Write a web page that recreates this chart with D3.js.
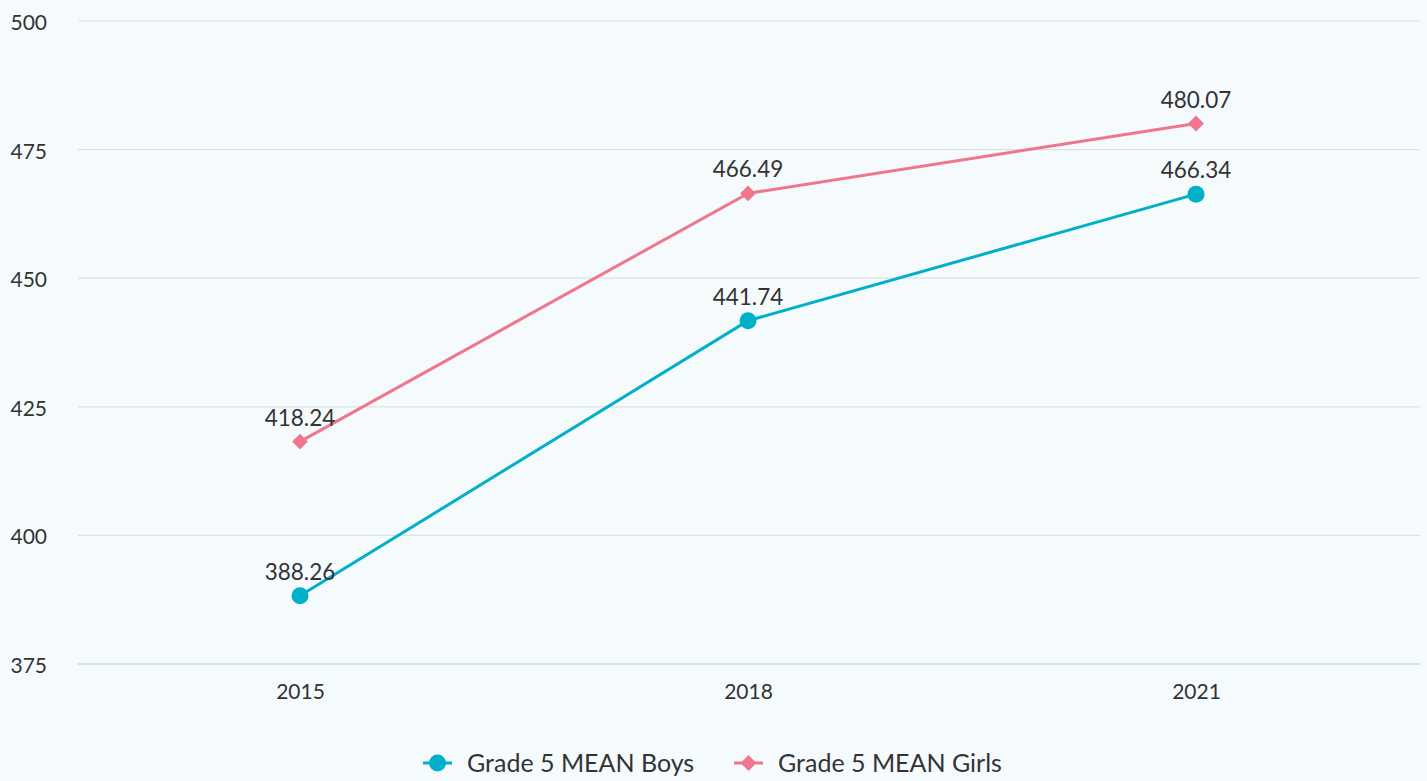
<!DOCTYPE html>
<html>
<head>
<meta charset="utf-8">
<script src="https://cdn.jsdelivr.net/npm/d3@7"></script>
<style>
  body { margin: 0; background: #f5fafd; }
  svg { display: block; font-family: "Lato", "Open Sans", sans-serif; }
</style>
</head>
<body>
<svg id="chart" width="1427" height="781"></svg>
<script>
// data
const years = ["2015", "2018", "2021"];
const boys = [388.26, 441.74, 466.34];
const girls = [418.24, 466.49, 480.07];
const yTicks = [375, 400, 425, 450, 475, 500];
const seriesNames = ["Grade 5 MEAN Boys", "Grade 5 MEAN Girls"];
const colors = ["#00b0c8", "#f0768e"];

const svg = d3.select("#chart");
const margin = {top: 21, right: 7, bottom: 117, left: 76};
const width = 1427 - margin.left - margin.right,
      height = 781 - margin.top - margin.bottom;

const g = svg.append("g")
    .attr("transform", "translate(" + margin.left + "," + margin.top + ")");

const x = d3.scalePoint()
    .domain(years)
    .range([0, width])
    .padding(0.5);

const y = d3.scaleLinear()
    .domain([375, 500])
    .range([height, 0]);

// grid lines
g.selectAll(".grid")
    .data(yTicks.slice(1))
  .enter().append("line")
    .attr("class", "grid")
    .attr("x1", 2).attr("x2", width)
    .attr("y1", d => y(d)).attr("y2", d => y(d))
    .attr("stroke", "#dde1e6")
    .attr("stroke-width", 1.2);

// x axis
const xAxis = g.append("g")
    .attr("transform", "translate(0," + height + ")")
    .call(d3.axisBottom(x).tickSize(0).tickPadding(20));
xAxis.select(".domain").attr("stroke", "#ccd6eb").attr("stroke-width", 1.5)
    .attr("d", "M2,0H" + width);
xAxis.selectAll("text").attr("font-size", 21).attr("fill", "#333").attr("font-family", "Lato");

// y axis
const yAxis = g.append("g")
    .call(d3.axisLeft(y).tickValues(yTicks).tickSize(0).tickPadding(29));
yAxis.select(".domain").remove();
yAxis.selectAll("text").attr("font-size", 21).attr("fill", "#333").attr("font-family", "Lato")
    .attr("dy", "0.4em");

const series = [boys, girls];

const line = d3.line()
    .x((d, i) => x(years[i]))
    .y(d => y(d));

series.forEach((vals, s) => {
  g.append("path")
      .datum(vals)
      .attr("fill", "none")
      .attr("stroke", colors[s])
      .attr("stroke-width", 3)
      .attr("d", line);
});

// markers
g.selectAll(".dot")
    .data(boys)
  .enter().append("circle")
    .attr("cx", (d, i) => x(years[i]))
    .attr("cy", d => y(d))
    .attr("r", 8.5)
    .attr("fill", colors[0]);

g.selectAll(".dia")
    .data(girls)
  .enter().append("path")
    .attr("transform", (d, i) => "translate(" + x(years[i]) + "," + y(d) + ") rotate(45)")
    .attr("d", d3.symbol().type(d3.symbolSquare).size(125))
    .attr("fill", colors[1]);

// data labels
series.forEach((vals, s) => {
  g.selectAll(".lbl" + s)
      .data(vals)
    .enter().append("text")
      .attr("x", (d, i) => x(years[i]))
      .attr("y", d => y(d) - 16)
      .attr("text-anchor", "middle")
      .attr("font-size", 22.5)
      .attr("fill", "#333")
      .text(d => d.toFixed(2));
});

// legend
const legend = svg.append("g").attr("transform", "translate(0,763)");
const items = [{x: 423, name: seriesNames[0]}, {x: 734, name: seriesNames[1]}];
items.forEach((it, s) => {
  const lg = legend.append("g").attr("transform", "translate(" + it.x + ",0)");
  lg.append("line").attr("x1", 0).attr("x2", 29).attr("y1", 0).attr("y2", 0)
      .attr("stroke", colors[s]).attr("stroke-width", 3);
  if (s === 0) {
    lg.append("circle").attr("cx", 14.5).attr("cy", 0).attr("r", 8.5).attr("fill", colors[s]);
  } else {
    lg.append("path").attr("transform", "translate(14.5,0) rotate(45)")
        .attr("d", d3.symbol().type(d3.symbolSquare).size(125)).attr("fill", colors[s]);
  }
  lg.append("text").attr("x", 44).attr("y", 0).attr("dy", "0.35em")
      .attr("font-size", 25).attr("fill", "#333")
      .text(it.name);
});
</script>
</body>
</html>
